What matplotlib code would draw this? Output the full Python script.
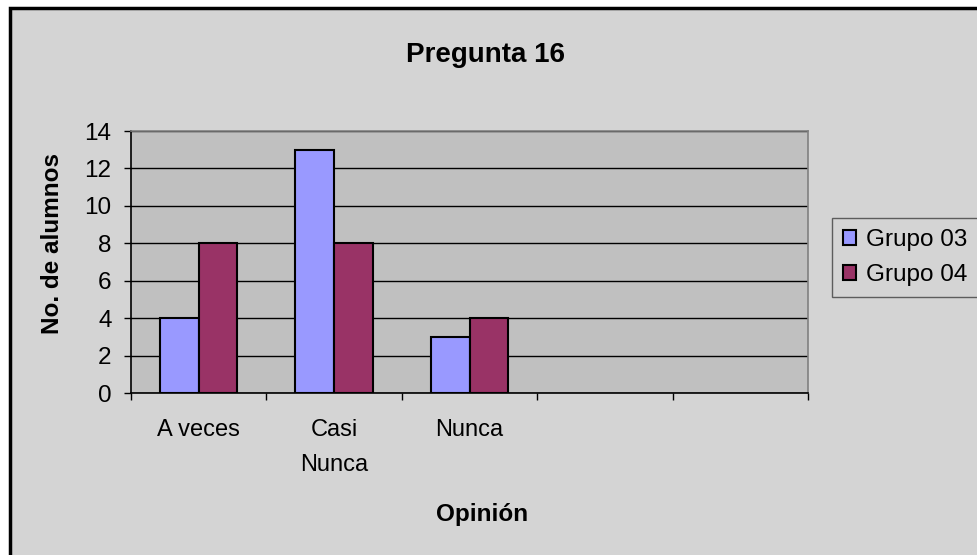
import numpy as np
import matplotlib.pyplot as plt
from matplotlib.patches import Rectangle

# datos de la grafica
categorias = ['A veces', 'Casi\nNunca', 'Nunca', '', '']
grupo_03 = [4, 13, 3]
grupo_04 = [8, 8, 4]
series = ['Grupo 03', 'Grupo 04']
yticks = [0, 2, 4, 6, 8, 10, 12, 14]

plt.rcParams['font.family'] = ['Liberation Sans', 'DejaVu Sans']

W, H = 977, 555
fig = plt.figure(figsize=(W / 100, H / 100), dpi=100)
fig.patch.set_facecolor('white')

# area del grafico (borde negro izquierda/arriba)
fig.patches.append(Rectangle((9.5 / W, -0.1), 1.2, 1.1 - 7.5 / H,
                             transform=fig.transFigure, facecolor='#D4D4D4',
                             edgecolor='black', linewidth=2.5, zorder=-5))

ax = fig.add_axes([131 / W, 1 - 393 / H, (808 - 131) / W, (393 - 131) / H])
ax.set_facecolor('#C0C0C0')

n = len(categorias)
w = 1 / 3.5
x = np.arange(len(grupo_03)) + 0.5
ax.bar(x - w / 2, grupo_03, w, color='#9999FF', edgecolor='black', linewidth=1.5,
       label=series[0], zorder=3)
ax.bar(x + w / 2, grupo_04, w, color='#993366', edgecolor='black', linewidth=1.5,
       label=series[1], zorder=3)

ax.set_xlim(0, n)
ax.set_ylim(0, 14)
ax.set_yticks(yticks)
ax.yaxis.grid(True, color='black', linewidth=1.0, zorder=1)
ax.set_axisbelow(True)

ax.set_xticks(np.arange(n + 1))
ax.set_xticklabels([])
ax.set_xticks(np.arange(n) + 0.5, minor=True)
ax.set_xticklabels(categorias, minor=True, fontsize=17, linespacing=1.75)
ax.tick_params(axis='x', which='minor', length=0, pad=19)
ax.tick_params(axis='x', which='major', length=5, width=1, color='black')
ax.tick_params(axis='y', length=5, width=1, labelsize=17.5, pad=9)

for s in ['top', 'right']:
    ax.spines[s].set_color('#808080')
    ax.spines[s].set_linewidth(1.2)
for s in ['left', 'bottom']:
    ax.spines[s].set_color('black')
    ax.spines[s].set_linewidth(1.2)

fig.text(485 / W, 1 - 55 / H, 'Pregunta 16', ha='center', va='center',
         fontsize=20, fontweight='bold')
fig.text(53 / W, 1 - 243 / H, 'No. de alumnos', ha='center', va='center',
         rotation=90, fontsize=17.5, fontweight='bold')
fig.text(482 / W, 1 - 514 / H, 'Opinión', ha='center', va='center',
         fontsize=17.5, fontweight='bold')

leg = fig.legend(loc='upper left', bbox_to_anchor=(832 / W, 1 - 218 / H),
                 fontsize=17.5, frameon=True, fancybox=False, shadow=False,
                 handlelength=0.55, handleheight=0.55, handletextpad=0.4,
                 borderpad=0.45, labelspacing=0.55, borderaxespad=0)
leg.get_frame().set_edgecolor('#404040')
leg.get_frame().set_facecolor('#D4D4D4')
leg.get_frame().set_linewidth(1.0)

plt.savefig('out.png', dpi=100)
